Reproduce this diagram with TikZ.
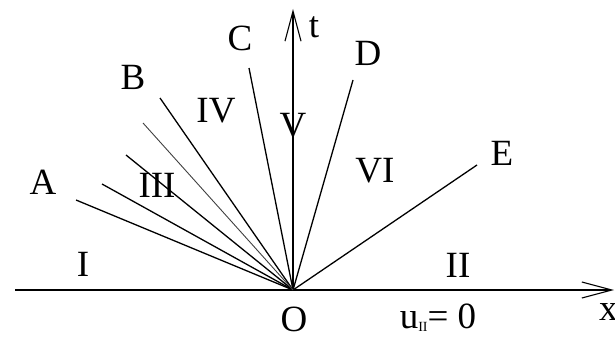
\documentclass[tikz,border=0pt]{standalone}
\usepackage{fontspec}
\setmainfont{Liberation Serif}
\usetikzlibrary{arrows.meta}
\begin{document}
\begin{tikzpicture}[x=1pt,y=-1pt,
  lbl/.style={inner sep=0pt,font=\fontsize{37}{39}\selectfont},
  ray/.style={line width=1.3pt},
  thinray/.style={line width=0.9pt,black!75},
  axis/.style={line width=1.3pt,-{Straight Barb[length=30pt,width=16pt,line width=1.1pt]}}]
\useasboundingbox (0,0) rectangle (615,337);
\coordinate (O) at (293,290);
\coordinate (xs) at (15,290);
\coordinate (xe) at (614,290);
\coordinate (te) at (293,9);
\coordinate (a1) at (76,200);
\coordinate (a2) at (102,184);
\coordinate (a3) at (126,155);
\coordinate (a4) at (143,123);
\coordinate (b) at (160,98);
\coordinate (c) at (249,68);
\coordinate (d) at (353,80);
\coordinate (e) at (477,165);
\draw[axis] (xs) -- (xe);
\draw[axis] (O) -- (te);
\foreach \p in {a1,a2,a3,b,c,d,e} \draw[ray] (O) -- (\p);
\draw[thinray] (O) -- (a4);
\node[lbl] (lA) at (43,182) {A};
\node[lbl] (lB) at (133,77) {B};
\node[lbl] (lC) at (240,38) {C};
\node[lbl] (lD) at (368,53) {D};
\node[lbl] (lE) at (502,153) {E};
\node[lbl] (lt) at (314,27) {t};
\node[lbl] (lI) at (83,264) {I};
\node[lbl] (lII) at (458,265) {II};
\node[lbl] (lIII) at (157,185) {III};
\node[lbl] (lIV) at (216,111) {IV};
\node[lbl] (lV) at (293,126) {V};
\node[lbl] (lVI) at (375,171) {VI};
\node[lbl] (lO) at (294,319) {O};
\node[lbl,anchor=west] (lx) at (599,312) {x};
\node[lbl] (lu) at (438,318) {u\raisebox{-3pt}{\fontsize{14}{14}\selectfont II}= 0};
\end{tikzpicture}
\end{document}
